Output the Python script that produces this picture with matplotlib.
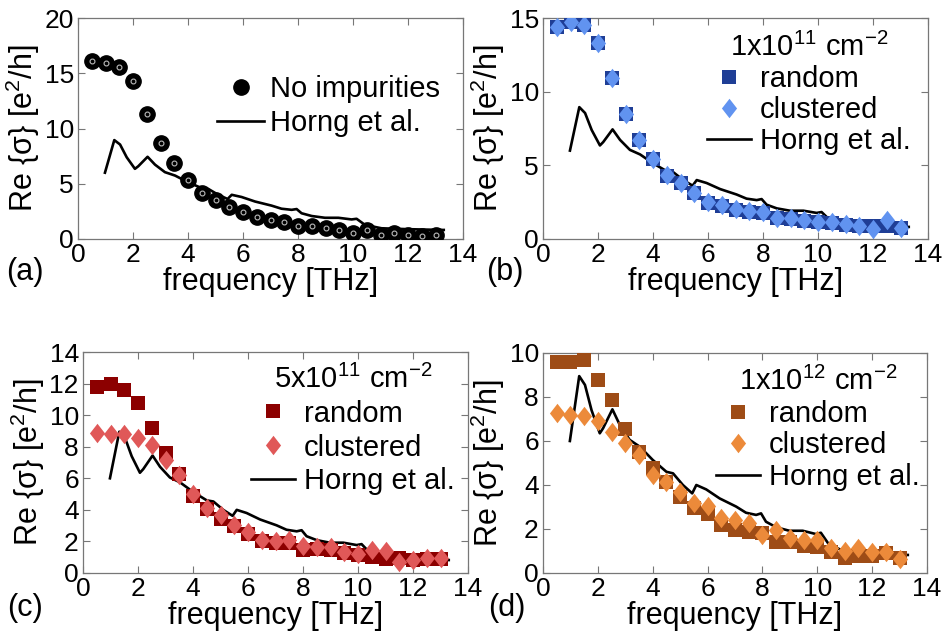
import numpy as np
import matplotlib
matplotlib.use('Agg')
import matplotlib.pyplot as plt
from matplotlib.path import Path

plt.rcParams['font.family'] = ['Liberation Sans', 'DejaVu Sans']
plt.rcParams['mathtext.fontset'] = 'custom'
plt.rcParams['mathtext.rm'] = 'Liberation Sans'
plt.rcParams['mathtext.it'] = 'Liberation Sans:italic'

# ===== DATA =====

freq = np.arange(1, 27) * 0.5  # 0.5 ... 13 THz

no_imp = [16.1, 15.9, 15.6, 14.3, 11.3, 8.7, 6.9, 5.3, 4.2, 3.5, 2.9, 2.4, 2.0,
          1.75, 1.5, 1.2, 1.2, 1.0, 0.85, 0.55, 0.85, 0.35, 0.5, 0.4, 0.25, 0.4]

b_random = [14.4, 14.7, 14.5, 13.3, 10.9, 8.5, 6.75, 5.4, 4.3, 3.8, 3.1, 2.45, 2.25,
            1.95, 1.85, 1.75, 1.45, 1.35, 1.25, 1.15, 1.1, 0.95, 0.9, 0.9, 0.85, 0.75]
b_clustered = [14.4, 14.7, 14.55, 13.3, 10.9, 8.5, 6.75, 5.45, 4.35, 3.8, 3.15, 2.5, 2.3,
               2.05, 1.9, 1.8, 1.45, 1.4, 1.3, 1.15, 1.15, 1.0, 0.9, 0.7, 1.3, 0.75]

c_random = [11.8, 12.0, 11.6, 10.8, 9.2, 7.6, 6.3, 4.9, 4.05, 3.45, 2.95, 2.45, 2.05,
            1.92, 1.88, 1.45, 1.55, 1.45, 1.25, 1.15, 1.0, 0.9, 0.95, 0.82, 0.87, 0.87]
c_clustered = [8.9, 8.8, 8.8, 8.55, 8.1, 7.15, 6.2, 5.0, 4.1, 3.65, 3.05, 2.6, 2.1,
               2.05, 2.1, 1.7, 1.67, 1.62, 1.35, 1.2, 1.45, 1.4, 0.72, 0.82, 0.93, 0.93]

d_random = [9.6, 9.58, 9.7, 8.77, 7.86, 6.55, 5.5, 4.76, 4.15, 3.47, 2.94, 2.68, 2.18,
            1.95, 1.88, 1.8, 1.42, 1.42, 1.23, 1.2, 0.97, 0.7, 0.77, 0.77, 0.9, 0.67]
d_clustered = [7.26, 7.18, 7.14, 6.92, 6.42, 5.92, 5.36, 4.45, 4.15, 3.7, 3.17, 3.05, 2.48,
               2.41, 2.26, 1.73, 1.95, 1.58, 1.5, 1.5, 1.12, 1.0, 1.12, 0.97, 0.97, 0.62]

# Horng et al. measured curve
horng_f = [0.98, 1.32, 1.53, 1.77, 2.07, 2.19, 2.53, 2.8, 3.16, 3.53, 4.0, 4.5, 4.74,
           5.1, 5.44, 5.59, 5.95, 6.44, 7.04, 7.4, 7.77, 7.95, 8.13, 8.5, 8.98, 9.47,
           9.95, 10.13, 10.44, 11.04, 12.0, 13.2, 13.3]
horng_s = [6.0, 8.95, 8.55, 7.4, 6.35, 6.58, 7.44, 6.73, 6.05, 5.74, 5.14, 4.6, 4.53,
           4.0, 3.62, 4.0, 3.8, 3.39, 3.02, 2.74, 2.64, 2.71, 2.33, 2.08, 1.92, 1.92,
           1.77, 1.83, 1.27, 0.97, 0.89, 0.82, 0.82]

# ===== STYLE =====

diamond = Path([(0, 1), (0.78, 0), (0, -1), (-0.78, 0), (0, 1)],
               [Path.MOVETO, Path.LINETO, Path.LINETO, Path.LINETO, Path.CLOSEPOLY])

tick_fs = 19
label_fs = 22
leg_fs = 21

fig = plt.figure(figsize=(9.44, 6.38), dpi=100)
fig.patch.set_facecolor('white')

W, H = 944.0, 638.0

def make_axes(x0, x1, ytop, ybot):
    return fig.add_axes([x0 / W, 1 - ybot / H, (x1 - x0) / W, (ybot - ytop) / H])

def style(ax, ymax, ystep):
    ax.set_xlim(0, 14)
    ax.set_ylim(0, ymax)
    ax.set_xticks(np.arange(0, 15, 2))
    ax.set_yticks(np.arange(0, ymax + 0.1, ystep))
    ax.tick_params(direction='in', length=5, width=0.8, top=True, right=True,
                   labelsize=tick_fs, color='#777777', pad=3)
    for s in ax.spines.values():
        s.set_color('#777777')
        s.set_linewidth(0.9)
    ax.set_xlabel('frequency [THz]', fontsize=label_fs, labelpad=0)
    ax.set_ylabel('Re {σ} [e$^{2}$/h]', fontsize=label_fs, labelpad=2)

# ---- (a) ----
ax1 = make_axes(78, 463, 18, 239)
ax1.plot(freq, no_imp, 'o', color='black', ms=11, label='No impurities', zorder=3)
ax1.plot(freq, no_imp, 'o', mfc='none', mec='#bbbbbb', ms=3.5, mew=0.8, zorder=4)
ax1.plot(horng_f, horng_s, '-', color='black', lw=1.9, label='Horng et al.', zorder=2)
style(ax1, 20, 5)
ax1.legend(loc='center right', bbox_to_anchor=(0.94, 0.60), frameon=False,
           fontsize=leg_fs, handlelength=1.6, handletextpad=0.2, labelspacing=0.2,
           borderpad=0, borderaxespad=0)

# ---- (b)-(d) ----
panels = [
    ((543, 928, 18, 239), b_random, b_clustered, '#1f3e96', '#6193f0', 15, 5,
     '1x10$^{11}$ cm$^{-2}$', (0.955, 0.655), 0.1),
    ((83, 468, 352, 573), c_random, c_clustered, '#8c0000', '#e05858', 14, 2,
     '5x10$^{11}$ cm$^{-2}$', (0.965, 0.647), 0.2),
    ((543, 927, 353, 573), d_random, d_clustered, '#9e4c16', '#ec8a3a', 10, 2,
     '1x10$^{12}$ cm$^{-2}$', (0.98, 0.655), 0.12),
]

for box, rnd, clu, c_r, c_c, ymax, ystep, title, anchor, lsp in panels:
    ax = make_axes(*box)
    ax.plot(freq, rnd, 's', color=c_r, ms=9.5, mew=0, label='random', zorder=3)
    ax.plot(freq, clu, marker=diamond, ls='none', color=c_c, ms=14, mew=0,
            label='clustered', zorder=4)
    ax.plot(horng_f, horng_s, '-', color='black', lw=1.9, label='Horng et al.', zorder=2)
    style(ax, ymax, ystep)
    ax.legend(loc='center right', bbox_to_anchor=anchor, frameon=False,
              fontsize=leg_fs, title=title, title_fontsize=leg_fs,
              handlelength=1.5, handletextpad=0.3, labelspacing=lsp,
              borderpad=0, borderaxespad=0)

# panel letters
fig.text(25 / W, 1 - 272 / H, '(a)', fontsize=label_fs, ha='center', va='center')
fig.text(505 / W, 1 - 272 / H, '(b)', fontsize=label_fs, ha='center', va='center')
fig.text(25 / W, 1 - 608 / H, '(c)', fontsize=label_fs, ha='center', va='center')
fig.text(507 / W, 1 - 608 / H, '(d)', fontsize=label_fs, ha='center', va='center')

plt.savefig('out.png', dpi=100)
